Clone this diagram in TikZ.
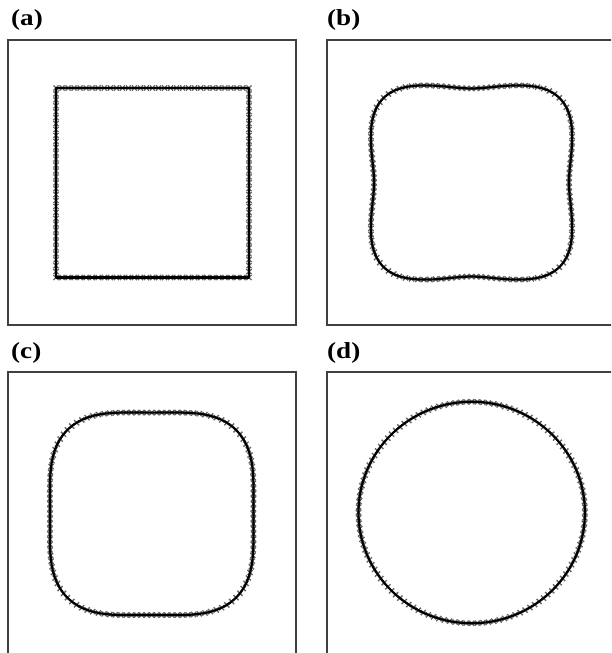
\documentclass[tikz,border=0pt]{standalone}
\usepackage{fontspec}
\newfontfamily\panelfont[FakeStretch=1.18]{Liberation Serif}
\usepackage{tikz}

\tikzset{
  panel/.style={draw=black!75, line width=1.8pt},
  tag/.style={anchor=base west, inner sep=0pt, font=\panelfont\bfseries\fontsize{23}{25}\selectfont},
  front/.style={draw=black, line width=2.2pt, line join=round},
  pts/.style={only marks, mark=x, mark size=3.6pt, draw=black!60, mark options={line width=1.4pt}},
}

\begin{document}
\begin{tikzpicture}[x=1pt,y=-1pt]
    \useasboundingbox (0,0) rectangle (611,653);
    \clip (0,0) rectangle (611,653);
    \draw[panel] (8,40) rectangle (296,325);
    \draw[panel] (327,40) rectangle (640,325);
    \draw[panel] (8,372) rectangle (296,680);
    \draw[panel] (327,372) rectangle (640,680);
    \node[tag] (taga) at (11,25.5) {(a)};
    \node[tag] (tagb) at (327,25.5) {(b)};
    \node[tag] (tagc) at (11,358) {(c)};
    \node[tag] (tagd) at (327,358) {(d)};

    \draw[pts] plot[domain=0:31, samples=32] ({56+\x*6.03}, 88);
    \draw[pts] plot[domain=0:31, samples=32] (249, {88+\x*5.92});
    \draw[pts] plot[domain=0:31, samples=32] ({249-\x*6.03}, 277.5);
    \draw[pts] plot[domain=0:31, samples=32] (56, {277.5-\x*5.92});
    \draw[front] (56,88) rectangle (249,277.5);

    \begin{scope}[shift={(471.5,182.5)}, xscale=1.026, yscale=0.99]
        \draw[pts] plot[domain=0:357.1875, samples=128] (\x:{107.03-12.76*cos(4*\x)+0.97*cos(8*\x)-0.24*cos(12*\x)});
        \draw[front] plot[domain=0:360, samples=241] (\x:{107.03-12.76*cos(4*\x)+0.97*cos(8*\x)-0.24*cos(12*\x)}) -- cycle;
    \end{scope}

    \begin{scope}[shift={(151.7,513.8)}, xscale=1.002, yscale=0.997]
        \draw[pts] plot[domain=0:357.1875, samples=128] (\x:{109.77-8.75*cos(4*\x)+0.48*cos(8*\x)});
        \draw[front] plot[domain=0:360, samples=241] (\x:{109.77-8.75*cos(4*\x)+0.48*cos(8*\x)}) -- cycle;
    \end{scope}

    \begin{scope}[shift={(471.7,512.5)}, xscale=1.011, yscale=0.989]
        \draw[pts] plot[domain=0:357.1875, samples=128] (\x:112);
        \draw[front] (0,0) circle[radius=112];
    \end{scope}
\end{tikzpicture}
\end{document}
